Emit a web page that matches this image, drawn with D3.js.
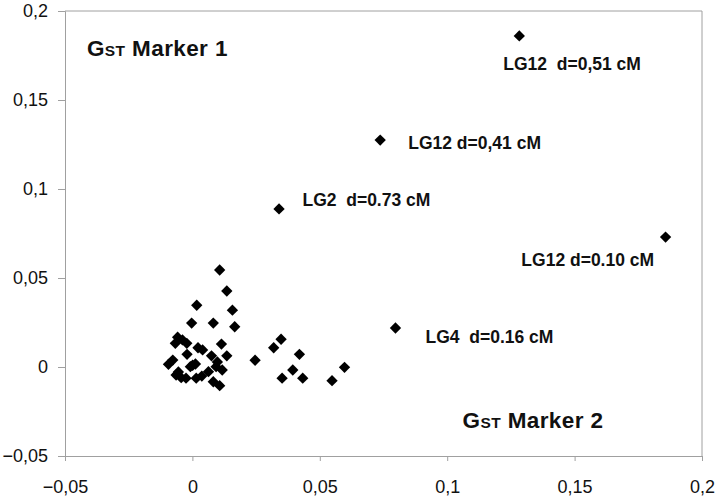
<!DOCTYPE html>
<html>
<head>
<meta charset="utf-8">
<script src="https://cdn.jsdelivr.net/npm/d3@7"></script>
<style>
  body { margin: 0; background: #fff; }
  text { font-family: "Liberation Sans", Arial, sans-serif; white-space: pre; }
</style>
</head>
<body>
<div id="chart"></div>
<script>
// GST values, marker 2 (x) vs marker 1 (y)
var gstX = [0.0107, 0.0135, 0.0017, 0.0157, -0.0003, 0.0082, 0.0166, -0.0058, 0.0348, 0.0319,
            -0.0067, -0.0022, 0.0114, 0.0022, 0.0040, 0.0420, -0.0021, 0.0075, 0.0135, 0.0246,
            -0.0077, -0.0094, 0.0001, -0.0008, 0.0093, 0.0117, 0.0063, 0.0394, 0.0597, -0.0064,
            -0.0044, -0.0025, 0.0015, 0.0037, 0.0352, 0.0433, 0.0548, 0.0082, 0.0107, 0.0098,
            -0.0039, 0.0012, -0.0055,
            0.1283, 0.0737, 0.0340, 0.1857, 0.0797];
var gstY = [0.0545, 0.0427, 0.0347, 0.0319, 0.0247, 0.0247, 0.0226, 0.0167, 0.0156, 0.0108,
            0.0133, 0.0133, 0.0129, 0.0108, 0.0096, 0.0071, 0.0071, 0.0063, 0.0063, 0.0038,
            0.0039, 0.0015, 0.0010, 0.0002, 0.0002, -0.0017, -0.0026, -0.0017, -0.0002, -0.0045,
            -0.0060, -0.0063, -0.0063, -0.0051, -0.0063, -0.0063, -0.0077, -0.0083, -0.0105, 0.0028,
            0.0152, 0.0017, -0.0028,
            0.186, 0.1275, 0.0888, 0.0730, 0.0219];

// annotations (anchored in data units)
var noteText = ["LG12  d=0,51 cM", "LG12 d=0,41 cM", "LG2  d=0.73 cM", "LG12 d=0.10 cM", "LG4  d=0.16 cM"];
var noteX = [0.1220, 0.0847, 0.0432, 0.1291, 0.0915];
var noteY = [0.1669, 0.1225, 0.0905, 0.0568, 0.0135];

var xTicks = [-0.05, 0, 0.05, 0.1, 0.15, 0.2];
var yTicks = [-0.05, 0, 0.05, 0.1, 0.15, 0.2];

var width = 720, height = 501;
var margin = {top: 11, right: 18, bottom: 45, left: 65};

var svg = d3.select("#chart").append("svg").attr("width", width).attr("height", height);

var x = d3.scaleLinear().domain([-0.05, 0.2]).range([margin.left, width - margin.right]);
var y = d3.scaleLinear().domain([-0.05, 0.2]).range([height - margin.bottom, margin.top]);

var fmt = function(v) { return d3.format("")(+v.toFixed(2)).replace(".", ","); };

// frame (top/right)
svg.append("path")
  .attr("d", "M" + x(-0.05) + "," + y(0.2) + "H" + x(0.2) + "V" + y(-0.05))
  .attr("fill", "none").attr("stroke", "#a0a0a0").attr("stroke-width", 1);

var xAxis = svg.append("g")
  .attr("transform", "translate(0," + y(-0.05) + ")")
  .call(d3.axisBottom(x).tickValues(xTicks).tickSize(5).tickPadding(19).tickFormat(fmt));
var yAxis = svg.append("g")
  .attr("transform", "translate(" + x(-0.05) + ",0)")
  .call(d3.axisLeft(y).tickValues(yTicks).tickSize(7).tickPadding(10).tickFormat(fmt));

[xAxis, yAxis].forEach(function(a) {
  a.select(".domain").attr("stroke", "#a0a0a0");
  a.selectAll(".tick line").attr("stroke", "#a0a0a0");
  a.selectAll(".tick text").attr("font-size", 18).attr("fill", "#111")
    .attr("font-family", "Liberation Sans, Arial, sans-serif");
});

var diamond = d3.symbol().type(d3.symbolSquare).size(64);
svg.append("g").selectAll("path")
  .data(d3.range(gstX.length))
  .enter().append("path")
  .attr("d", diamond)
  .attr("transform", function(i) { return "translate(" + x(gstX[i]) + "," + y(gstY[i]) + ") rotate(45)"; })
  .attr("fill", "#000");

svg.append("g").selectAll("text")
  .data(d3.range(noteText.length))
  .enter().append("text")
  .attr("x", function(i) { return x(noteX[i]); })
  .attr("y", function(i) { return y(noteY[i]); })
  .attr("font-size", 17.5).attr("font-weight", "bold").attr("fill", "#111")
  .text(function(i) { return noteText[i]; });

// axis titles (inside plot)
function gstTitle(px, py, rest) {
  var t = svg.append("text").attr("x", px).attr("y", py)
    .attr("font-weight", "bold").attr("font-size", 22.5).attr("fill", "#111")
    .attr("letter-spacing", 0.4);
  t.append("tspan").text("G");
  t.append("tspan").attr("font-size", 15.5).text("ST");
  t.append("tspan").text(" " + rest);
}
gstTitle(x(-0.0414), y(0.1745), "Marker 1");
gstTitle(x(0.1060), y(-0.0345), "Marker 2");
</script>
</body>
</html>
